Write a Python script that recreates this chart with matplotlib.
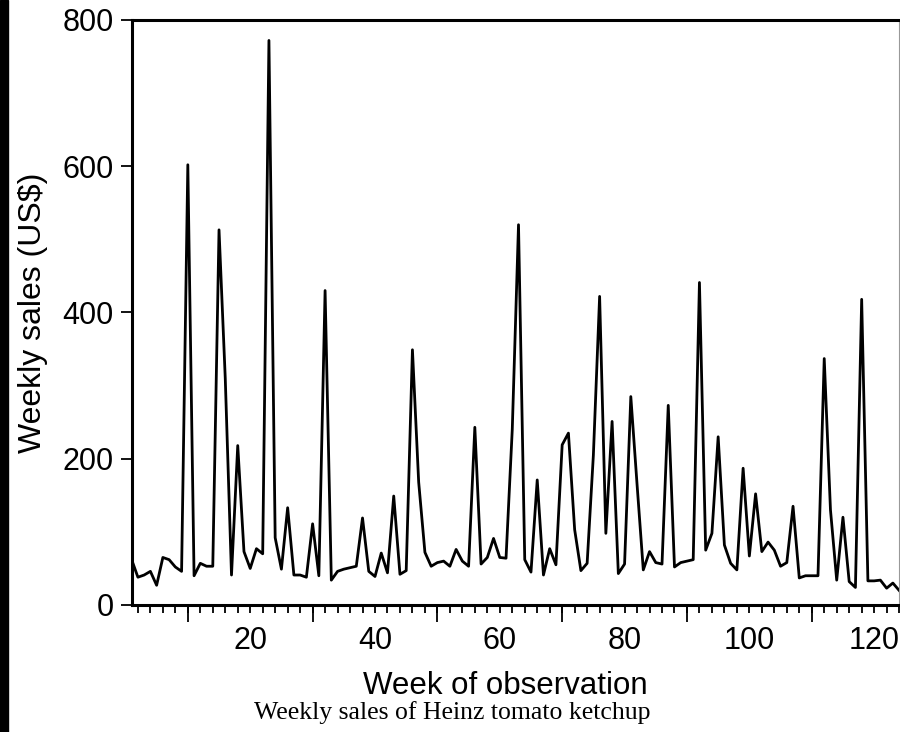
import matplotlib.pyplot as plt
from matplotlib.patches import Rectangle
from matplotlib.ticker import MultipleLocator

# weekly sales, weeks 1..124
weeks = list(range(1, 125))
sales = [62, 38, 41, 46, 27, 65, 62, 52, 46, 602,
         40, 57, 53, 53, 513, 310, 41, 218, 73, 50,
         77, 70, 772, 92, 49, 133, 41, 41, 38, 111,
         40, 430, 34, 46, 49, 51, 53, 119, 46, 39,
         71, 44, 149, 42, 47, 349, 168, 72, 53, 58,
         60, 53, 76, 60, 53, 243, 56, 65, 91, 65,
         64, 240, 520, 62, 45, 171, 41, 77, 55, 219,
         235, 103, 47, 57, 205, 422, 98, 251, 43, 56,
         285, 165, 48, 73, 58, 56, 273, 52, 58, 60,
         62, 441, 75, 98, 230, 82, 57, 48, 187, 67,
         152, 73, 86, 75, 53, 58, 135, 37, 40, 40,
         40, 337, 130, 34, 120, 32, 24, 418, 33, 33,
         34, 23, 30, 20]
xlabels = [20, 40, 60, 80, 100, 120]
long_ticks = [10, 30, 50, 70, 90, 110]
yticks = [0, 200, 400, 600, 800]

plt.rcParams['font.family'] = ['Liberation Sans', 'DejaVu Sans']

fig = plt.figure(figsize=(9, 7.32), dpi=100)
ax = fig.add_axes([0.1463, 0.1735, 0.8527, 0.7992])
ax.plot(weeks, sales, color='black', linewidth=2.0)
ax.set_xlim(1, 124)
ax.set_ylim(0, 800)

ax.set_yticks(yticks)
ax.set_xticks(xlabels)
ax.xaxis.set_minor_locator(MultipleLocator(2))
ax.tick_params(axis='y', direction='out', length=8, width=1.3, labelsize=22, pad=5)
ax.tick_params(axis='x', which='both', direction='out', length=5.8, width=1.3, labelsize=22, pad=9)

# longer ticks at 10, 30, ... without labels
sec = ax.secondary_xaxis('bottom')
sec.set_xticks(long_ticks)
sec.set_xticklabels([])
sec.tick_params(direction='out', length=12, width=1.3)
sec.spines['bottom'].set_visible(False)

for s in ['left', 'bottom', 'top']:
    ax.spines[s].set_linewidth(2.2)
ax.spines['right'].set_linewidth(0.8)
ax.spines['right'].set_color('#999999')

ax.set_ylabel('Weekly sales (US$)', fontsize=23, labelpad=10)
ax.set_xlabel('Week of observation', fontsize=22.5)
ax.xaxis.set_label_coords(0.487, -0.112)

fig.text(0.503, 0.027, 'Weekly sales of Heinz tomato ketchup', ha='center', va='center',
         fontsize=18.5, family=['Liberation Serif', 'DejaVu Serif'])

# dark strip down the left edge of the scan
fig.patches.append(Rectangle((0, 0), 8 / 900, 1, transform=fig.transFigure,
                             color='black', zorder=10))

fig.savefig('out.png', dpi=100)
